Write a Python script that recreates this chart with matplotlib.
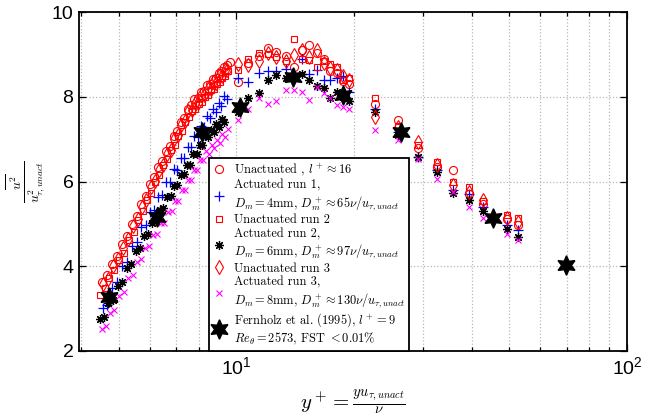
import matplotlib
matplotlib.use('Agg')
from matplotlib import pyplot as plt
from matplotlib.ticker import NullFormatter, NullLocator

plt.rcParams['mathtext.fontset'] = 'cm'
plt.rcParams['font.family'] = ['Liberation Sans', 'DejaVu Sans']

# outer stations (y+ > 10), same for every run
yp_out = [10.06, 10.73, 11.39, 12.01, 12.66, 13.36, 14.00, 14.68, 15.30, 16.04, 16.72, 17.32,
          18.05, 18.70, 19.38, 22.59, 25.87, 29.12, 32.57, 35.80, 39.34, 42.73, 49.24, 52.55]

# Unactuated, l+ ~ 16 (circles)
ua1_x = [4.52, 4.66, 4.8, 4.95, 5.1, 5.25, 5.4, 5.55, 5.7, 5.85, 6.0, 6.15, 6.3, 6.45, 6.6, 6.75,
         6.9, 7.05, 7.2, 7.35, 7.5, 7.65, 7.8, 7.95, 8.1, 8.25, 8.4, 8.55, 8.7, 8.85, 9.0, 9.15,
         9.3, 9.45, 9.6]
ua1_y = [3.62, 3.79, 4.05, 4.25, 4.52, 4.71, 5.0, 5.19, 5.47, 5.65, 5.93, 6.1, 6.34, 6.49, 6.72,
         6.84, 7.07, 7.19, 7.40, 7.51, 7.72, 7.81, 7.94, 7.97, 8.11, 8.14, 8.27, 8.30, 8.43, 8.45,
         8.57, 8.60, 8.71, 8.74, 8.83]
ua1_out = [8.35, 8.80, 8.96, 9.14, 9.06, 8.96, 8.71, 9.10, 9.22, 9.04, 8.90, 8.60,
           8.55, 8.37, 8.30, 7.84, 7.46, 6.78, 6.35, 6.28, 5.70, 5.48, 5.11, 4.97]

# Actuated run 1, Dm = 4mm (plus)
ac1_x = [4.55, 4.65, 4.8, 4.95, 5.1, 5.25, 5.4, 5.55, 5.7, 5.85, 6.0, 6.15, 6.3, 6.45, 6.6, 6.75,
         6.9, 7.05, 7.2, 7.35, 7.5, 7.65, 7.8, 7.95, 8.1, 8.25, 8.4, 8.55, 8.7, 8.85, 9.0, 9.15,
         9.3, 9.45]
ac1_y = [3.02, 3.08, 3.48, 3.62, 4.01, 4.10, 4.48, 4.57, 4.93, 4.97, 5.29, 5.33, 5.63, 5.67, 5.98,
         5.99, 6.29, 6.28, 6.55, 6.55, 6.82, 6.81, 7.07, 7.05, 7.31, 7.29, 7.54, 7.49, 7.71, 7.64,
         7.86, 7.79, 8.01, 7.94]
ac1_out = [8.45, 8.35, 8.55, 8.61, 8.61, 8.66, 8.55, 8.88, 8.53, 8.64, 8.40, 8.39,
           8.45, 8.49, 8.12, 7.70, 7.17, 6.58, 6.27, 5.80, 5.70, 5.40, 4.97, 4.85]

# Unactuated run 2 (squares)
ua2_x = [4.48, 4.6, 4.72, 4.86, 5.0, 5.14, 5.3, 5.45, 5.6, 5.75, 5.9, 6.05, 6.2, 6.35, 6.5, 6.65,
         6.8, 6.95, 7.1, 7.25, 7.4, 7.55, 7.7, 7.85, 8.0, 8.15, 8.3, 8.45, 8.6, 8.75, 8.9, 9.05,
         9.2, 9.35, 9.5]
ua2_y = [3.33, 3.48, 3.73, 3.90, 4.15, 4.31, 4.62, 4.82, 5.10, 5.30, 5.56, 5.74, 6.0, 6.15, 6.38,
         6.52, 6.74, 6.87, 7.07, 7.20, 7.40, 7.52, 7.66, 7.71, 7.83, 7.88, 8.0, 8.04, 8.15, 8.19,
         8.30, 8.34, 8.45, 8.50, 8.60]
ua2_out = [8.64, 8.90, 9.04, 9.00, 8.95, 8.85, 9.36, 8.88, 8.86, 8.70, 8.85, 8.78,
           8.71, 8.39, 8.45, 7.96, 7.30, 6.85, 6.46, 5.99, 5.88, 5.55, 5.21, 5.13]

# Actuated run 2, Dm = 6mm (asterisk)
ac2_x = [4.48, 4.58, 4.7, 4.82, 4.96, 5.1, 5.24, 5.38, 5.52, 5.66, 5.8, 5.94, 6.08, 6.22, 6.36,
         6.5, 6.64, 6.78, 6.92, 7.06, 7.2, 7.34, 7.48, 7.62, 7.76, 7.9, 8.04, 8.18, 8.32, 8.46,
         8.6, 8.74, 8.88, 9.02, 9.16, 9.3]
ac2_y = [2.76, 2.81, 3.13, 3.20, 3.53, 3.64, 3.95, 4.05, 4.36, 4.43, 4.71, 4.76, 5.03, 5.07, 5.33,
         5.37, 5.63, 5.65, 5.90, 5.92, 6.15, 6.17, 6.40, 6.40, 6.64, 6.64, 6.86, 6.86, 7.08, 7.04,
         7.22, 7.17, 7.35, 7.29, 7.47, 7.41]
ac2_out = [7.65, 7.98, 8.09, 8.40, 8.51, 8.45, 8.50, 8.53, 8.39, 8.25, 8.20, 7.98,
           8.12, 8.00, 7.90, 7.64, 7.09, 6.58, 6.23, 5.73, 5.56, 5.31, 4.89, 4.70]

# Unactuated run 3 (diamonds)
ua3_x = [4.55, 4.69, 4.83, 4.98, 5.12, 5.28, 5.42, 5.58, 5.72, 5.88, 6.03, 6.18, 6.33, 6.48, 6.63,
         6.78, 6.93, 7.08, 7.23, 7.38, 7.53, 7.68, 7.83, 7.98, 8.13, 8.28, 8.43, 8.58, 8.73, 8.88,
         9.03, 9.18, 9.33, 9.48]
ua3_y = [3.57, 3.71, 4.01, 4.16, 4.44, 4.64, 4.94, 5.12, 5.40, 5.56, 5.86, 6.01, 6.28, 6.40, 6.66,
         6.75, 7.01, 7.10, 7.34, 7.42, 7.67, 7.69, 7.86, 7.86, 8.03, 8.03, 8.19, 8.18, 8.34, 8.33,
         8.49, 8.48, 8.64, 8.63]
ua3_out = [8.77, 8.75, 8.85, 9.03, 8.95, 8.85, 8.98, 9.10, 8.95, 9.10, 8.80, 8.69,
           8.63, 8.50, 8.40, 7.53, 7.29, 6.94, 6.40, 5.92, 5.75, 5.56, 5.15, 5.05]

# Actuated run 3, Dm = 8mm (x)
ac3_x = [4.52, 4.62, 4.74, 4.86, 5.0, 5.14, 5.28, 5.42, 5.56, 5.7, 5.84, 5.98, 6.12, 6.26, 6.4,
         6.54, 6.68, 6.82, 6.96, 7.1, 7.24, 7.38, 7.52, 7.66, 7.8, 7.94, 8.08, 8.22, 8.36, 8.5,
         8.64, 8.78, 8.92, 9.06, 9.2, 9.34, 9.5]
ac3_y = [2.52, 2.58, 2.89, 2.97, 3.30, 3.39, 3.72, 3.79, 4.10, 4.16, 4.43, 4.47, 4.73, 4.76, 5.01,
         5.03, 5.28, 5.30, 5.55, 5.55, 5.80, 5.80, 6.04, 6.04, 6.27, 6.27, 6.50, 6.50, 6.72, 6.66,
         6.86, 6.80, 6.98, 6.92, 7.11, 7.04, 7.23]
ac3_out = [7.45, 7.70, 7.98, 7.84, 7.90, 8.16, 8.16, 8.12, 7.92, 8.23, 8.08, 7.98,
           7.80, 7.75, 7.70, 7.21, 6.99, 6.54, 6.05, 5.75, 5.40, 5.13, 4.75, 4.62]

# Fernholz et al. (1995)
fh_x = [4.72, 6.24, 8.18, 10.18, 13.95, 18.7, 26.4, 45.3, 69.9]
fh_y = [3.27, 5.16, 7.16, 7.76, 8.47, 8.04, 7.17, 5.13, 4.03]

fig = plt.figure(figsize=(6.5, 4.19), dpi=100)
ax = fig.add_axes([0.1215, 0.1623, 0.8431, 0.809])

ax.plot(ua1_x + yp_out, ua1_y + ua1_out, ls='none', marker='o', mfc='none', mec='red',
        ms=5.8, mew=0.8, label=r'Unactuated , $l^+ \approx 16$')
ax.plot(ac1_x + yp_out, ac1_y + ac1_out, ls='none', marker='+', mec='blue', ms=6.5, mew=0.9,
        label='Actuated run 1,\n' + r'$D_m = 4$mm, $D_m^+ \approx 65\nu/u_{\tau,unact}$')
ax.plot(ua2_x + yp_out, ua2_y + ua2_out, ls='none', marker='s', mfc='none', mec='red',
        ms=5, mew=0.8, label='Unactuated run 2')
ax.plot(ac2_x + yp_out, ac2_y + ac2_out, ls='none', marker=(8, 2, 0), mec='black', ms=6.5,
        mew=0.9, label='Actuated run 2,\n' + r'$D_m = 6$mm, $D_m^+ \approx 97\nu/u_{\tau,unact}$')
ax.plot(ua3_x + yp_out, ua3_y + ua3_out, ls='none', marker='d', mfc='none', mec='red',
        ms=7, mew=0.8, label='Unactuated run 3')
ax.plot(ac3_x + yp_out, ac3_y + ac3_out, ls='none', marker='x', mec='magenta', ms=4.5,
        mew=0.8, label='Actuated run 3,\n' + r'$D_m = 8$mm, $D_m^+ \approx 130\nu/u_{\tau,unact}$')
ax.plot(fh_x, fh_y, ls='none', marker=(6, 1, 0), mfc='black', mec='black', ms=14,
        label=r'Fernholz et al. (1995), $l^+ = 9$' + '\n' + r'$Re_\theta = 2573$, FST $< 0.01\%$')

ax.set_xscale('log')
ax.set_xlim(3.95, 100)
ax.set_ylim(2, 10)
ax.set_yticks([2, 4, 6, 8, 10])
ax.yaxis.set_minor_locator(NullLocator())
ax.set_xticks([10, 100])
ax.set_xticklabels([r'$\mathregular{10^1}$', r'$\mathregular{10^2}$'])
ax.xaxis.set_minor_formatter(NullFormatter())

ax.grid(True, which='major', linestyle=':', color='#b8b8b8', linewidth=0.9)
ax.grid(True, which='minor', axis='x', linestyle=':', color='#b8b8b8', linewidth=0.9)
ax.set_axisbelow(True)
ax.tick_params(which='both', direction='in', top=True, right=True, labelsize=14, width=0.9)
ax.tick_params(which='major', length=5, pad=4)
ax.tick_params(which='minor', length=3)
for s in ax.spines.values():
    s.set_linewidth(1.3)

ax.set_xlabel(r'$y^+ = \frac{y u_{\tau,unact}}{\nu}$', fontsize=15, labelpad=6)
ax.set_ylabel(r'$\frac{\overline{u^2}}{u^2_{\tau,unact}}$', fontsize=14)
ax.yaxis.set_label_coords(-0.058, 0.5)

leg = ax.legend(loc='lower left', bbox_to_anchor=(0.237, 0.0), borderaxespad=0,
                prop={'family': ['cmr10', 'DejaVu Serif'], 'size': 8.9},
                fancybox=False, framealpha=1, edgecolor='black', handlelength=1.0,
                handletextpad=0.7, labelspacing=0.12, borderpad=0.3)
leg.get_frame().set_linewidth(1.3)

fig.savefig('out.png', dpi=100)
